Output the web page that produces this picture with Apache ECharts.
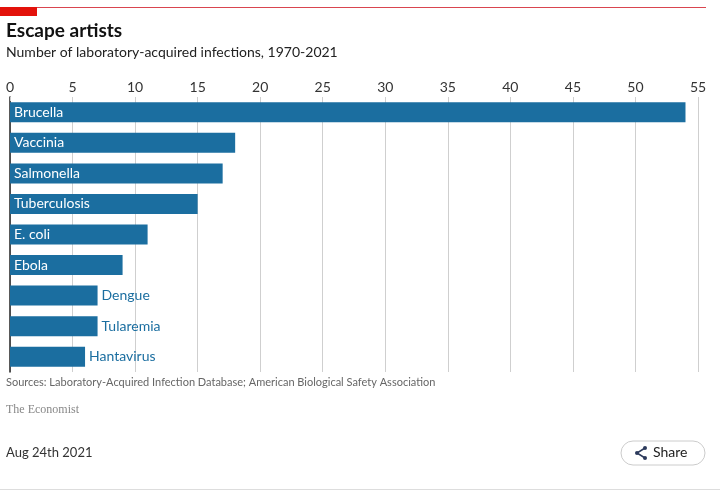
<!DOCTYPE html>
<html>
<head>
<meta charset="utf-8">
<title>Escape artists</title>
<script src="https://cdn.jsdelivr.net/npm/echarts@6/dist/echarts.min.js"></script>
<style>
  html, body { margin: 0; padding: 0; background: #fff; }
  #main { width: 720px; height: 491px; }
</style>
</head>
<body>
<div id="main"></div>
<script type="text/javascript">
var categories = ['Brucella', 'Vaccinia', 'Salmonella', 'Tuberculosis', 'E. coli', 'Ebola', 'Dengue', 'Tularemia', 'Hantavirus'];
var infections = [54, 18, 17, 15, 11, 9, 7, 7, 6];
var xTicks = [0, 5, 10, 15, 20, 25, 30, 35, 40, 45, 50, 55];

var blue = '#1b6ea0';
var font = 'Lato, "Open Sans", sans-serif';

var chart = echarts.init(document.getElementById('main'));

var barData = infections.map(function (v, i) {
  var inside = v >= 9;
  return {
    value: v,
    label: {
      show: true,
      position: inside ? 'insideLeft' : 'right',
      distance: 4,
      color: inside ? '#fff' : blue,
      formatter: categories[i]
    }
  };
});

var option = {
  backgroundColor: '#fff',
  animation: false,
  textStyle: { fontFamily: font },
  grid: { left: 10, right: 22, top: 97, bottom: 119, containLabel: false },
  xAxis: {
    type: 'value',
    position: 'top',
    min: 0,
    max: xTicks[xTicks.length - 1],
    interval: 5,
    axisLine: { show: false },
    axisTick: { show: true, length: 4, inside: true, lineStyle: { color: '#cfcfcf' } },
    axisLabel: { color: '#333', fontSize: 14, margin: 3, fontFamily: font },
    splitLine: { lineStyle: { color: '#cfcfcf', width: 1 } }
  },
  yAxis: {
    type: 'category',
    inverse: true,
    data: categories,
    axisLine: { show: true, lineStyle: { color: '#222', width: 1.5 } },
    axisTick: { show: false },
    axisLabel: { show: false }
  },
  series: [{
    type: 'bar',
    data: barData,
    barWidth: 20,
    itemStyle: { color: blue },
    label: { fontSize: 14, fontFamily: font }
  }],
  graphic: [
    { type: 'line', shape: { x1: 0, y1: 7.5, x2: 706, y2: 7.5 }, style: { stroke: '#d9454f', lineWidth: 1 } },
    { type: 'rect', shape: { x: 0, y: 7, width: 37, height: 9 }, style: { fill: '#e3120b' } },
    { type: 'text', left: 6, top: 21, style: { text: 'Escape artists', font: 'bold 19px ' + font, fill: '#111' } },
    { type: 'text', left: 6, top: 45, style: { text: 'Number of laboratory-acquired infections, 1970-2021', font: '14px ' + font, fill: '#222' } },
    { type: 'text', left: 6, top: 377, style: { text: 'Sources: Laboratory-Acquired Infection Database; American Biological Safety Association', font: '11px ' + font, fill: '#666' } },
    { type: 'text', left: 6, top: 404, style: { text: 'The Economist', font: '12px "Liberation Serif", "DejaVu Serif", serif', fill: '#888' } },
    { type: 'text', left: 6, top: 446, style: { text: 'Aug 24th 2021', font: '13px ' + font, fill: '#333' } },
    { type: 'rect', shape: { x: 621, y: 441, width: 84, height: 24, r: 12 }, style: { fill: '#fff', stroke: '#ccc', lineWidth: 1 } },
    { type: 'polyline', shape: { points: [[645, 448], [637, 453], [645, 458]] }, style: { stroke: '#2c3a5c', lineWidth: 1.5, fill: null } },
    { type: 'circle', shape: { cx: 645, cy: 448, r: 2 }, style: { fill: '#2c3a5c' } },
    { type: 'circle', shape: { cx: 637, cy: 453, r: 2 }, style: { fill: '#2c3a5c' } },
    { type: 'circle', shape: { cx: 645, cy: 458, r: 2 }, style: { fill: '#2c3a5c' } },
    { type: 'text', left: 653, top: 445, style: { text: 'Share', font: '14px ' + font, fill: '#222' } },
    { type: 'line', shape: { x1: 0, y1: 489.5, x2: 720, y2: 489.5 }, style: { stroke: '#ddd', lineWidth: 1 } }
  ]
};

chart.setOption(option);
</script>
</body>
</html>
